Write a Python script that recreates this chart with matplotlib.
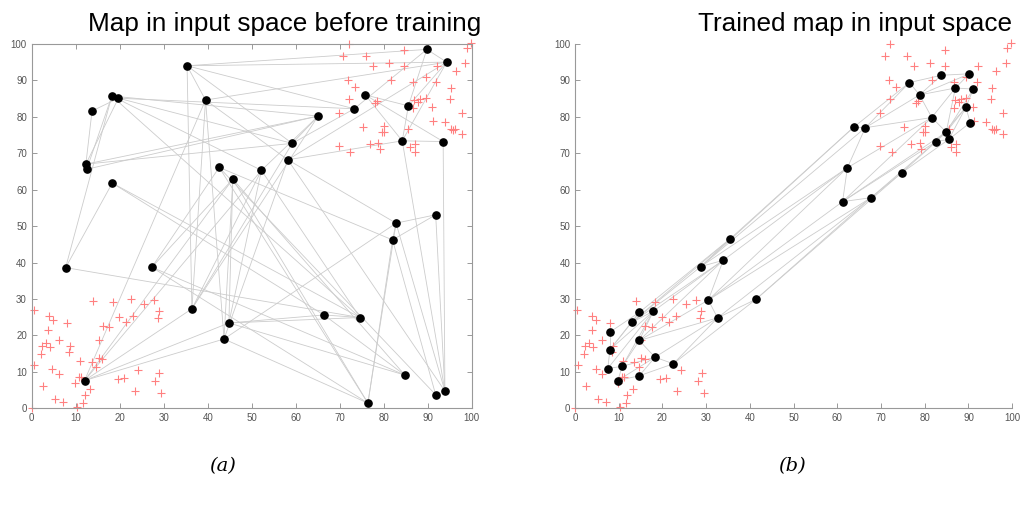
import matplotlib.pyplot as plt
import numpy as np

# input samples (same data in both panels)
low_x = [0.0, 0.4, 0.6, 2.3, 2.1, 2.5, 3.2, 4.0, 3.8, 4.2, 4.9, 4.7, 6.1, 6.1, 5.2, 7.2, 8.0,
         8.6, 8.5, 9.9, 10.2, 10.7, 11.0, 11.2, 11.7, 12.0, 13.3, 13.6, 13.9, 14.6, 15.2, 15.2,
         16.0, 16.1, 17.6, 18.4, 19.5, 19.9, 20.9, 21.4, 22.5, 23.0, 23.4, 24.2, 25.5, 27.7,
         28.1, 28.9, 28.7, 29.0, 29.4]
low_y = [0.0, 27.0, 12.0, 17.0, 14.8, 6.1, 17.9, 25.3, 21.6, 16.8, 24.3, 10.9, 18.6, 9.5, 2.5,
         1.8, 23.5, 17.1, 15.3, 6.8, 0.3, 8.5, 13.0, 8.6, 1.5, 3.6, 5.3, 12.7, 29.3, 11.4, 13.7,
         18.8, 13.6, 22.6, 22.3, 29.2, 8.1, 25.0, 8.3, 23.6, 29.9, 25.4, 4.7, 10.4, 28.5, 29.8,
         7.4, 26.7, 24.8, 9.6, 4.1]
high_x = [72.1, 70.8, 76.0, 84.7, 98.9, 99.8, 77.6, 81.2, 84.7, 92.2, 98.5, 96.4, 71.8, 73.5,
          81.6, 86.7, 89.5, 91.9, 95.3, 95.1, 72.0, 78.0, 78.4, 86.8, 88.2, 89.5, 87.8, 86.6,
          91.0, 97.8, 69.8, 91.2, 94.0, 95.3, 96.3, 97.8, 95.8, 75.2, 80.0, 79.5, 80.0, 78.8,
          76.9, 79.1, 85.5, 85.9, 87.1, 87.1, 69.8, 72.4]
high_y = [100.0, 96.7, 96.7, 98.4, 99.0, 100.2, 94.0, 94.9, 94.0, 94.0, 94.9, 92.7, 90.1, 88.3,
          90.1, 89.5, 90.8, 89.5, 87.8, 84.9, 85.0, 83.9, 84.3, 84.6, 84.9, 85.1, 84.0, 82.5,
          82.8, 81.1, 81.1, 78.9, 78.5, 76.6, 76.6, 75.3, 76.3, 77.1, 77.5, 75.8, 75.8, 72.9,
          72.6, 71.1, 76.7, 71.6, 72.4, 70.2, 72.0, 70.2]

# 6x6 map before training, row-major
init_x = [13.7, 19.7, 73.3, 89.8, 85.6, 75.8,
          12.3, 59.2, 35.3, 94.3, 84.2, 93.5,
          12.5, 65.1, 36.4, 39.5, 58.2, 93.9,
          18.2, 52.2, 12.0, 43.7, 82.8, 91.8,
          7.7, 74.6, 44.8, 45.7, 76.4, 82.0,
          18.3, 66.4, 84.8, 27.3, 42.6, 91.8]
init_y = [81.6, 85.1, 82.2, 98.5, 83.0, 86.0,
          67.0, 72.7, 94.0, 95.0, 73.4, 73.2,
          65.6, 80.2, 27.3, 84.6, 68.2, 4.7,
          85.7, 65.3, 7.6, 19.0, 50.8, 53.1,
          38.6, 24.9, 23.4, 62.9, 1.4, 46.2,
          61.8, 25.6, 9.1, 38.7, 66.1, 3.7]

# 6x6 map after training, row-major
trained_x = [8.0, 14.7, 35.5, 63.7, 76.5, 83.8,
             8.0, 13.0, 28.8, 66.4, 78.8, 90.2,
             7.5, 17.9, 33.9, 62.3, 81.6, 87.0,
             10.8, 14.7, 30.5, 61.2, 84.9, 91.1,
             9.8, 18.3, 32.6, 67.7, 82.6, 89.4,
             14.7, 22.5, 41.4, 74.7, 85.5, 90.4]
trained_y = [20.9, 26.3, 46.5, 77.1, 89.4, 91.4,
             16.1, 23.6, 38.9, 77.0, 86.0, 91.8,
             10.9, 26.6, 40.6, 66.0, 79.8, 87.9,
             11.5, 18.6, 29.7, 56.7, 75.8, 87.6,
             7.6, 14.0, 24.8, 57.8, 73.2, 82.6,
             8.9, 12.2, 29.9, 64.6, 73.8, 78.4]

titles = ["Map in input space before training", "Trained map in input space"]
captions = ["(a)", "(b)"]

plt.rcParams['font.family'] = ['Liberation Sans', 'DejaVu Sans']

fig = plt.figure(figsize=(10.24, 5.09), dpi=100)
ax_a = fig.add_axes([0.031, 0.198, 0.4297, 0.7157])
ax_b = fig.add_axes([0.5615, 0.198, 0.427, 0.7157])


def hexa_edges(n=6):
    # neighbours on an offset hexagonal lattice
    edges = []
    for i in range(n):
        for j in range(n):
            if j + 1 < n:
                edges.append((i * n + j, i * n + j + 1))
            if i + 1 < n:
                edges.append((i * n + j, (i + 1) * n + j))
                jd = j + 1 if i % 2 else j - 1
                if 0 <= jd < n:
                    edges.append((i * n + j, (i + 1) * n + jd))
    return edges


def draw_map(ax, mx, my, title, caption, box, title_x, cap_x):
    for a, b in hexa_edges():
        ax.plot([mx[a], mx[b]], [my[a], my[b]], color="#cccccc", lw=0.6, zorder=1)
    ax.plot(low_x, low_y, "+", color="#ff8080", ms=6, mew=0.8, zorder=2, clip_on=False)
    ax.plot(high_x, high_y, "+", color="#ff8080", ms=6, mew=0.8, zorder=2, clip_on=False)
    ax.plot(mx, my, "o", color="black", ms=5.2, zorder=3, clip_on=False)
    ax.set_xlim(0, 100)
    ax.set_ylim(0, 100)
    ax.set_xticks(np.arange(0, 101, 10))
    ax.set_yticks(np.arange(0, 101, 10))
    ax.tick_params(direction="in", length=3.5, width=0.7, colors="#999999",
                   labelcolor="#555555", labelsize=7, top=box, right=box)
    for name, sp in ax.spines.items():
        sp.set_color("#999999")
        sp.set_linewidth(0.8)
        if name in ("top", "right"):
            sp.set_visible(box)
    ax.set_title(title, fontsize=18.8, x=title_x, pad=9)
    ax.text(cap_x, -0.16, caption, transform=ax.transAxes, fontsize=14,
            style="italic", family="DejaVu Serif", ha="center", va="center")


draw_map(ax_a, init_x, init_y, titles[0], captions[0], True, 0.575, 0.433)
draw_map(ax_b, trained_x, trained_y, titles[1], captions[1], False, 0.64, 0.497)

fig.savefig("out.png", dpi=100)
